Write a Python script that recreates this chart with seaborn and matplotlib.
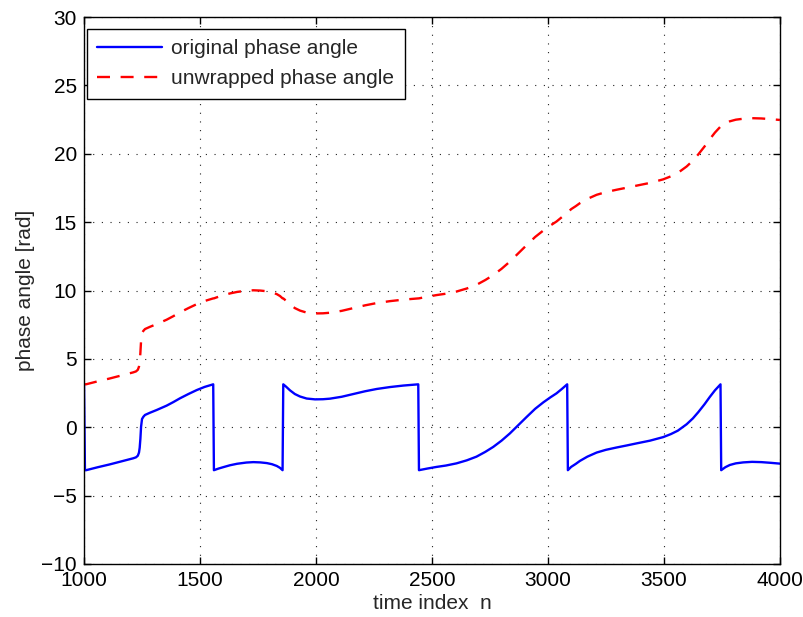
import numpy as np
import pandas as pd
import matplotlib
matplotlib.use("Agg")
import matplotlib.pyplot as plt
import seaborn as sns

# Wrapped (original) phase angle samples, in radians, at time index n
n_index = [
    1000, 1004, 1009, 1060, 1110, 1160, 1212, 1224, 1232, 1237, 1240, 1243,
    1246, 1250, 1256, 1263, 1284, 1313, 1356, 1385, 1414, 1450, 1486, 1520,
    1557, 1560, 1580, 1600, 1629, 1660, 1700, 1730, 1760, 1788, 1810, 1831,
    1845, 1856, 1859, 1871, 1888, 1909, 1931, 1960, 1996, 2030, 2060, 2111,
    2161, 2211, 2262, 2319, 2377, 2441, 2444, 2480, 2520, 2560, 2606, 2650,
    2692, 2730, 2764, 2800, 2836, 2872, 2908, 2945, 2980, 3010, 3037, 3060,
    3083, 3086, 3100, 3120, 3138, 3170, 3210, 3250, 3296, 3340, 3382, 3440,
    3497, 3530, 3560, 3598, 3625, 3648, 3675, 3698, 3720, 3744, 3747, 3765,
    3784, 3810, 3842, 3880, 3920, 3960, 4000,
]
phase_wrapped = [
    3.14, -3.14, -3.14, -2.92, -2.72, -2.50, -2.27, -2.20, -2.08, -1.85, -1.50, -0.85,
    0.04, 0.60, 0.77, 0.90, 1.06, 1.26, 1.58, 1.84, 2.12, 2.43, 2.72, 2.95,
    3.14, -3.14, -3.02, -2.92, -2.78, -2.67, -2.58, -2.55, -2.57, -2.62, -2.70, -2.83,
    -2.97, -3.14, 3.14, 2.97, 2.70, 2.43, 2.25, 2.10, 2.04, 2.05, 2.09, 2.23,
    2.43, 2.63, 2.80, 2.94, 3.05, 3.14, -3.14, -3.02, -2.90, -2.80, -2.64, -2.42,
    -2.15, -1.80, -1.44, -0.98, -0.45, 0.15, 0.75, 1.35, 1.82, 2.18, 2.48, 2.80,
    3.14, -3.14, -2.90, -2.68, -2.46, -2.15, -1.85, -1.65, -1.48, -1.33, -1.18, -0.98,
    -0.72, -0.50, -0.25, 0.22, 0.65, 1.10, 1.68, 2.22, 2.70, 3.14, -3.14, -2.92,
    -2.76, -2.64, -2.57, -2.53, -2.55, -2.60, -2.66,
]

x_ticks = [1000, 1500, 2000, 2500, 3000, 3500, 4000]
y_ticks = [-10, -5, 0, 5, 10, 15, 20, 25, 30]

df = pd.DataFrame({"n": n_index, "wrapped": phase_wrapped})
df["unwrapped"] = np.unwrap(df["wrapped"].to_numpy())

sns.set_theme(style="white")
plt.rcParams["font.family"] = ["Liberation Sans", "DejaVu Sans"]
plt.rcParams["font.size"] = 15

fig = plt.figure(figsize=(8.04, 6.17), dpi=100)
ax = fig.add_axes([0.1045, 0.0859, 0.8655, 0.8865])

sns.lineplot(data=df, x="n", y="wrapped", ax=ax, color="#0000ff", lw=1.7,
             estimator=None, sort=False, label="original phase angle")
sns.lineplot(data=df, x="n", y="unwrapped", ax=ax, color="#ff0000", lw=1.7,
             estimator=None, sort=False, label="unwrapped phase angle",
             linestyle=(0, (5.5, 4.5)))

ax.set_xlim(1000, 4000)
ax.set_ylim(-10, 30)
ax.set_xticks(x_ticks)
ax.set_yticks(y_ticks)
ax.set_xlabel("time index  n", fontsize=15, labelpad=3)
ax.set_ylabel("phase angle [rad]", fontsize=15, labelpad=5)

ax.grid(True, color="#222222", linestyle=(0, (1, 6.8)), linewidth=0.8)
ax.set_axisbelow(True)
for sp in ax.spines.values():
    sp.set_color("black")
    sp.set_linewidth(1.0)
    sp.set_visible(True)
ax.tick_params(direction="in", length=5, width=1.0, color="black",
               top=True, right=True, bottom=True, left=True,
               labelsize=15, labelcolor="black", pad=5)

leg = ax.legend(loc="upper left", bbox_to_anchor=(0.004, 0.979),
                borderaxespad=0, fancybox=False, framealpha=1,
                edgecolor="black", handlelength=3.1, handletextpad=0.45,
                borderpad=0.5, labelspacing=0.55, fontsize=15)
leg.get_frame().set_linewidth(1.0)

fig.savefig("out.png", dpi=100, facecolor="white")
